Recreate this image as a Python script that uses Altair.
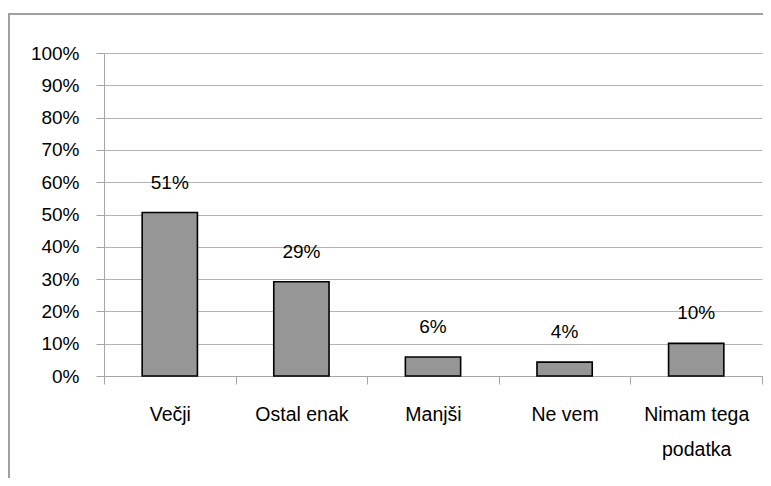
import altair as alt
import pandas as pd

categories = ["Večji", "Ostal enak", "Manjši", "Ne vem", "Nimam tega podatka"]
shares = [50.6, 29.2, 5.9, 4.3, 10.1]
y_ticks = [0, 10, 20, 30, 40, 50, 60, 70, 80, 90, 100]

df = pd.DataFrame({"cat": categories, "val": shares})

FONT = "Liberation Sans"
W, H = 658, 323

x_enc = alt.X(
    "cat:N",
    sort=categories,
    scale=alt.Scale(paddingInner=0, paddingOuter=0),
    axis=alt.Axis(
        title=None,
        labelAngle=0,
        tickBand="extent",
        tickSize=8,
        tickColor="#a6a6a6",
        domainColor="#a6a6a6",
        labelFontSize=19.5,
        labelFont=FONT,
        labelColor="black",
        labelPadding=21,
        labelLineHeight=35,
        labelBaseline="top",
        labelOverlap=False,
        grid=False,
        labelExpr="datum.label == 'Nimam tega podatka' ? ['Nimam tega', 'podatka'] : datum.label",
    ),
)
y_enc = alt.Y(
    "val:Q",
    scale=alt.Scale(domain=[0, 100], nice=False),
    axis=alt.Axis(
        title=None,
        values=y_ticks,
        tickCount=11,
        labelExpr="datum.value + '%'",
        tickSize=8,
        tickColor="#a6a6a6",
        domainColor="#a6a6a6",
        gridColor="#b4b4b4",
        labelFontSize=19,
        labelFont=FONT,
        labelColor="black",
        labelPadding=17,
        labelOverlap=False,
    ),
)

base = alt.Chart(df).encode(x=x_enc, y=y_enc)

bars = base.mark_bar(
    width=alt.RelativeBandSize(0.42),
    fill="#969696",
    stroke="black",
    strokeWidth=1.6,
)

labels = base.mark_text(
    dy=-30, fontSize=19, font=FONT, color="black", baseline="middle"
).encode(
    text=alt.Text("val:Q", format=".0f"),
)
labels = base.transform_calculate(
    lab="format(datum.val, '.0f') + '%'"
).mark_text(
    dy=-30, fontSize=19, font=FONT, color="black", baseline="middle"
).encode(text="lab:N")

border = alt.Chart(alt.Data(values=[{}])).mark_rect(
    fill="transparent", stroke="#a0a0a0", strokeWidth=2
).encode(
    x=alt.value(-95), x2=alt.value(720), y=alt.value(-39), y2=alt.value(520)
)

chart = alt.layer(border, bars, labels).properties(
    width=W,
    height=H,
    autosize=alt.AutoSizeParams(type="none"),
    padding={"left": 96, "top": 45, "right": 1, "bottom": 102},
).configure_view(strokeWidth=0)

chart.save("out.html", embed_options={"renderer": "svg", "actions": False})
